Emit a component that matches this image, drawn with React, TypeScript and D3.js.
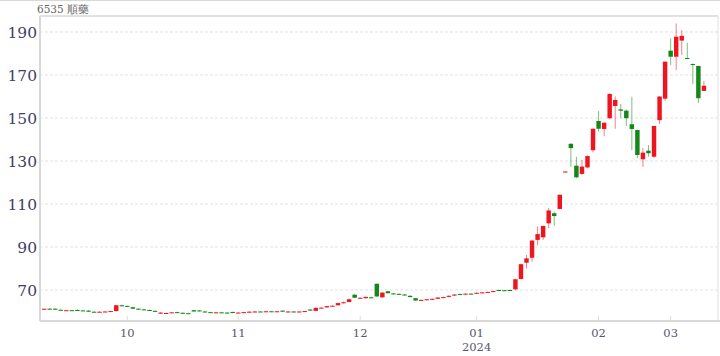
import React from "react";
import * as d3 from "d3";

const title = "6535 順藥";

// OHLC per trading day (index 0 = first day, ~2023-09-08)
const opens = [
  61.0, 61.3, 61.3, 60.8, 60.5, 60.6, 60.7, 60.5, 60.4, 59.9,
  59.7, 59.9, 60.0, 60.2, 62.9, 62.6, 62.0, 61.3, 61.0, 60.7,
  60.3, 59.0, 59.1, 59.6, 59.7, 59.4, 59.2, 60.6, 60.5, 60.0,
  59.7, 59.5, 59.6, 59.5, 59.8, 59.4, 59.5, 59.7, 59.9, 60.0,
  59.9, 60.1, 60.0, 60.4, 59.9, 60.0, 59.9, 60.0, 60.9, 60.3,
  61.7, 61.9, 62.5, 62.9, 63.9, 64.4, 67.8, 66.3, 66.2, 66.6,
  72.9, 66.6, 69.4, 68.4, 68.2, 67.9, 67.3, 66.2, 65.3, 65.4,
  65.8, 65.9, 66.5, 66.8, 67.4, 68.1, 68.0, 68.3, 68.3, 68.7,
  68.9, 69.4, 70.0, 69.9, 70.0, 70.3, 75.1, 82.7, 85.0, 93.3,
  94.5, 101.0, 105.7, 107.7, 125.0, 138.0, 127.8, 124.0, 127.0, 135.0,
  148.6, 144.9, 149.9, 155.6, 154.0, 153.4, 147.1, 144.4, 130.8, 134.8,
  132.0, 149.0, 159.0, 181.3, 178.5, 186.0, 177.9, 175.1, 174.2, 162.6,
];
const highs = [
  61.4, 61.5, 61.5, 61.0, 60.8, 60.8, 61.0, 60.8, 60.6, 60.1,
  60.0, 60.2, 60.3, 63.2, 63.2, 62.8, 62.2, 61.5, 61.2, 60.9,
  60.5, 59.6, 59.4, 59.8, 59.9, 59.6, 59.4, 60.8, 60.7, 60.2,
  59.9, 59.8, 59.9, 59.7, 59.9, 59.6, 59.8, 60.3, 60.2, 60.2,
  60.4, 60.3, 60.2, 60.5, 60.2, 60.2, 60.1, 60.3, 61.1, 61.8,
  62.0, 62.6, 62.8, 64.1, 64.6, 65.9, 68.1, 66.5, 66.9, 66.9,
  73.0, 69.0, 69.6, 68.6, 68.4, 68.1, 67.5, 66.3, 65.6, 65.8,
  66.1, 66.6, 66.9, 67.5, 68.0, 68.3, 68.4, 68.5, 68.9, 69.1,
  69.2, 69.7, 70.2, 70.1, 70.2, 75.2, 82.2, 86.3, 93.3, 99.5,
  99.9, 108.2, 106.4, 114.4, 125.2, 138.2, 132.0, 130.5, 132.6, 145.2,
  153.2, 147.9, 161.5, 160.0, 156.5, 154.0, 159.8, 144.5, 136.0, 137.4,
  146.4, 160.1, 176.3, 187.0, 194.0, 190.9, 185.0, 175.4, 174.3, 167.2,
];
const lows = [
  60.8, 61.0, 60.8, 60.5, 60.3, 60.3, 60.3, 60.3, 59.8, 59.6,
  59.5, 59.7, 59.8, 60.0, 62.3, 62.2, 61.2, 61.0, 60.6, 60.3,
  59.9, 58.9, 58.9, 59.4, 59.2, 59.0, 59.0, 59.9, 60.0, 59.6,
  59.4, 59.3, 59.4, 59.2, 59.2, 59.2, 59.3, 59.5, 59.7, 59.8,
  59.7, 59.9, 59.8, 59.8, 59.7, 59.8, 59.7, 59.8, 60.3, 60.2,
  61.4, 61.8, 62.2, 62.7, 63.7, 64.3, 66.2, 66.0, 66.0, 66.2,
  66.8, 66.4, 68.4, 68.0, 67.8, 67.4, 66.6, 65.0, 65.0, 65.2,
  65.5, 65.8, 66.3, 66.6, 67.2, 67.8, 67.8, 68.1, 68.1, 68.5,
  68.7, 69.2, 69.8, 69.5, 69.8, 70.0, 75.0, 80.0, 83.2, 90.9,
  93.3, 98.7, 99.8, 107.5, 124.8, 127.3, 122.0, 123.5, 126.5, 134.0,
  143.6, 141.5, 149.5, 145.0, 150.0, 146.3, 135.1, 131.3, 127.3, 132.0,
  131.5, 147.2, 158.0, 174.7, 172.3, 179.3, 177.8, 165.8, 157.0, 162.5,
];
const closes = [
  61.3, 61.2, 60.9, 60.6, 60.6, 60.4, 60.4, 60.4, 59.9, 59.7,
  59.9, 60.0, 60.2, 62.9, 62.5, 62.3, 61.3, 61.1, 60.7, 60.4,
  60.0, 59.5, 59.3, 59.6, 59.3, 59.1, 59.1, 60.0, 60.1, 59.7,
  59.6, 59.6, 59.5, 59.3, 59.3, 59.5, 59.7, 59.9, 60.0, 59.9,
  60.1, 60.0, 60.1, 59.9, 60.0, 59.9, 60.0, 60.2, 60.4, 61.7,
  61.8, 62.5, 62.7, 63.9, 64.3, 65.7, 66.4, 66.4, 66.8, 66.5,
  67.0, 68.8, 68.5, 68.1, 68.0, 67.5, 66.7, 65.1, 65.4, 65.7,
  65.9, 66.5, 66.7, 67.3, 67.9, 68.0, 68.3, 68.2, 68.7, 68.9,
  69.1, 69.5, 69.9, 69.8, 69.9, 75.0, 82.0, 84.7, 93.0, 96.0,
  99.8, 107.0, 104.4, 114.3, 125.1, 136.0, 122.4, 127.4, 132.3, 145.0,
  145.0, 147.8, 161.2, 158.4, 153.4, 149.9, 144.9, 132.8, 133.9, 133.6,
  146.3, 160.0, 176.2, 178.5, 187.8, 188.2, 177.8, 175.0, 159.2, 165.0,
];

// month ticks (trading-day index of first session of month)
const monthTickIdx = [15, 35, 57, 78, 100, 113];
const monthTickLabels = ["10", "11", "12", "01", "02", "03"];
const yearLabels = ["", "", "", "2024", "", ""];
const yTicks = [70, 90, 110, 130, 150, 170, 190];

const W = 720;
const H = 356;
const left = 40;
const right = 718;
const top = 16;
const bottom = 321;

const RED = "#ee1520";
const GREEN = "#15861a";
const SERIF = "DejaVu Serif";

export default function App() {
  const n = opens.length;
  const x = d3.scaleLinear().domain([-0.75, 121.9]).range([left, 720]);
  const y = d3.scaleLinear().domain([55.58, 197.44]).range([bottom, top]);
  const step = x(1) - x(0);
  const bw = step * 0.8;
  const idx = d3.range(n);

  return (
    <svg
      width={W}
      height={H}
      style={{ position: "absolute", left: 0, top: 0, background: "#fff" }}
      fontFamily={SERIF}
    >
      <line x1={0} x2={W} y1={0.5} y2={0.5} stroke="#d8d8d8" />
      <text x={37} y={13} fontSize={10.5} fill="#666" fontFamily={SERIF}>
        {title}
      </text>
      {/* grid */}
      {yTicks.map((t) => (
        <g key={t}>
          <line
            x1={left}
            x2={right}
            y1={y(t)}
            y2={y(t)}
            stroke="#e2e2e8"
            strokeDasharray="3,2"
          />
          <text
            x={37}
            y={y(t)}
            dy="0.36em"
            textAnchor="end"
            fontSize={15.5}
            fill="#3e3f63"
            fontFamily={SERIF}
          >
            {t}
          </text>
        </g>
      ))}
      {/* frame */}
      <line x1={left} x2={right} y1={top} y2={top} stroke="#d8d8d8" strokeWidth={1.5} />
      <line x1={left} x2={left} y1={top} y2={bottom} stroke="#d8d8d8" strokeWidth={2} />
      <line x1={right} x2={right} y1={top} y2={bottom} stroke="#e0e0e0" strokeWidth={1} />
      <line x1={left} x2={720} y1={bottom} y2={bottom} stroke="#d8d8d8" strokeWidth={2} />
      {/* x ticks */}
      {monthTickIdx.map((mi, k) => (
        <g key={mi}>
          <line x1={x(mi)} x2={x(mi)} y1={bottom - 5} y2={bottom} stroke="#dcdcdc" />
          <text
            x={x(mi)}
            y={337}
            textAnchor="middle"
            fontSize={11.5}
            fill="#55566e"
            fontFamily={SERIF}
          >
            {monthTickLabels[k]}
          </text>
          {yearLabels[k] && (
            <text
              x={x(mi)}
              y={351}
              textAnchor="middle"
              fontSize={11.5}
              fill="#55566e"
              fontFamily={SERIF}
            >
              {yearLabels[k]}
            </text>
          )}
        </g>
      ))}
      {/* candles */}
      {idx.map((i) => {
        const up = closes[i] >= opens[i];
        const col = up ? RED : GREEN;
        const cx = x(i);
        const yt = y(Math.max(opens[i], closes[i]));
        const yb = y(Math.min(opens[i], closes[i]));
        return (
          <g key={i}>
            <line
              x1={cx}
              x2={cx}
              y1={y(highs[i])}
              y2={y(lows[i])}
              stroke={col}
              strokeOpacity={0.55}
              strokeWidth={1}
            />
            <rect x={cx - bw / 2} y={yt} width={bw} height={Math.max(1, yb - yt)} fill={col} />
          </g>
        );
      })}
    </svg>
  );
}
